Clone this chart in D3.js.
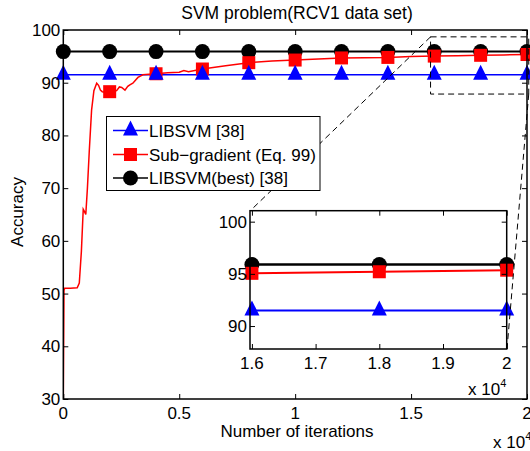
<!DOCTYPE html>
<html><head><meta charset="utf-8">
<script src="https://cdn.jsdelivr.net/npm/d3@7"></script>
<style>body{margin:0;background:#fff}svg{display:block;font-family:"Liberation Sans",Arial,sans-serif}</style>
</head><body>
<svg id="c" width="530" height="451"></svg>
<script>
// ---- data ----
const markerX = [0, 0.2, 0.4, 0.6, 0.8, 1.0, 1.2, 1.4, 1.6, 1.8, 2.0];
const libsvmY = [91.5, 91.5, 91.5, 91.5, 91.5, 91.5, 91.5, 91.5, 91.5, 91.5, 91.5];
const bestY   = [95.9, 95.9, 95.9, 95.9, 95.9, 95.9, 95.9, 95.9, 95.9, 95.9, 95.9];
const subMarkX = [0.2, 0.4, 0.6, 0.8, 1.0, 1.2, 1.4, 1.6, 1.8, 2.0];
const subMarkY = [88.3, 91.7, 92.6, 93.8, 94.3, 94.7, 94.8, 95.05, 95.2, 95.35];
const subX = [0, 0.003, 0.006, 0.03, 0.06, 0.069, 0.078, 0.086, 0.092, 0.097, 0.104, 0.112, 0.122, 0.132, 0.144, 0.152, 0.16, 0.168, 0.18, 0.2, 0.215, 0.23, 0.242, 0.252, 0.266, 0.278, 0.287, 0.30, 0.322, 0.343, 0.37, 0.4, 0.45, 0.5, 0.52, 0.54, 0.6, 0.7, 0.8, 0.9, 1.0, 1.1, 1.2, 1.3, 1.4, 1.5, 1.6, 1.7, 1.8, 1.9, 2.0];
const subY = [30, 50.6, 51, 51, 51.1, 52, 58, 66, 65.5, 65, 70, 77, 84.8, 88.5, 89.9, 89.5, 88.6, 88.3, 88.2, 88.3, 88.4, 88.5, 89.2, 89.1, 88.6, 89.3, 89.6, 89.9, 91.0, 91.5, 91.6, 91.7, 91.9, 92.0, 92.3, 92.1, 92.6, 93.2, 93.8, 94.1, 94.3, 94.5, 94.7, 94.75, 94.8, 94.95, 95.05, 95.12, 95.2, 95.28, 95.35];
const mainXTicks = [0, 0.5, 1, 1.5, 2];
const mainYTicks = [30, 40, 50, 60, 70, 80, 90, 100];
const insetXTicks = [1.6, 1.7, 1.8, 1.9, 2.0];
const insetYTicks = [90, 95, 100];
const seriesNames = ["LIBSVM [38]", "Sub\u2212gradient (Eq. 99)", "LIBSVM(best) [38]"];
const seriesColors = ["#0000ff", "#ff0000", "#000000"];
const seriesShapes = ["tri", "sq", "circ"];
const title = "SVM problem(RCV1 data set)";

const svg = d3.select("#c");
const FS = 17;

function marker(g, shape, color, cx, cy) {
  if (shape === "tri") {
    g.append("path").attr("d", `M${cx},${cy-10}L${cx+7.5},${cy+5}L${cx-7.5},${cy+5}Z`).attr("fill", color);
  } else if (shape === "sq") {
    g.append("rect").attr("x", cx-6.5).attr("y", cy-6.5).attr("width", 13).attr("height", 13).attr("fill", color);
  } else {
    g.append("circle").attr("cx", cx).attr("cy", cy).attr("r", 7.5).attr("fill", color);
  }
}

function drawPanel(g, x, y, xt, yt, xfmt, clipId, lw) {
  const [x0, x1] = x.range(), [y0, y1] = y.range();
  g.append("rect").attr("x", x0).attr("y", y1).attr("width", x1-x0).attr("height", y0-y1).attr("fill", "#fff");
  g.append("clipPath").attr("id", clipId).append("rect").attr("x", x0).attr("y", y1).attr("width", x1-x0).attr("height", y0-y1);
  const data = g.append("g");
  const lines = data.append("g").attr("clip-path", `url(#${clipId})`);
  const ln = d3.line().x(d => x(d[0])).y(d => y(d[1]));
  lines.append("path").datum(markerX.map((v,i)=>[v, libsvmY[i]])).attr("d", ln).attr("fill","none").attr("stroke", seriesColors[0]).attr("stroke-width", lw);
  lines.append("path").datum(subX.map((v,i)=>[v, subY[i]])).attr("d", ln).attr("fill","none").attr("stroke", seriesColors[1]).attr("stroke-width", lw);
  lines.append("path").datum(markerX.map((v,i)=>[v, bestY[i]])).attr("d", ln).attr("fill","none").attr("stroke", seriesColors[2]).attr("stroke-width", lw+0.5);
  const [dx0, dx1] = x.domain();
  const inX = v => v >= dx0 - 1e-9 && v <= dx1 + 1e-9;
  markerX.forEach((v,i)=>{ if (inX(v)) marker(data, "circ", seriesColors[2], x(v), y(bestY[i])); });
  subMarkX.forEach((v,i)=>{ if (inX(v)) marker(data, "sq", seriesColors[1], x(v), y(subMarkY[i])); });
  markerX.forEach((v,i)=>{ if (inX(v)) marker(data, "tri", seriesColors[0], x(v), y(libsvmY[i])); });
  g.append("rect").attr("x", x0).attr("y", y1).attr("width", x1-x0).attr("height", y0-y1).attr("fill","none").attr("stroke","#000").attr("stroke-width",1.5);
  const ax = g.append("g").attr("transform", `translate(0,${y0})`).call(d3.axisTop(x).tickValues(xt).tickSize(5).tickFormat(""));
  const axT = g.append("g").attr("transform", `translate(0,${y1})`).call(d3.axisBottom(x).tickValues(xt).tickSize(5).tickFormat(""));
  const ay = g.append("g").attr("transform", `translate(${x0},0)`).call(d3.axisRight(y).tickValues(yt).tickSize(5).tickFormat(""));
  const ayR = g.append("g").attr("transform", `translate(${x1},0)`).call(d3.axisLeft(y).tickValues(yt).tickSize(5).tickFormat(""));
  [ax, axT, ay, ayR].forEach(a => { a.select(".domain").remove(); a.selectAll("line").attr("stroke","#000").attr("stroke-width",1); });
  g.append("g").selectAll("text").data(xt).join("text")
    .attr("x", d => x(d)).attr("y", y0 + 20).attr("text-anchor","middle").attr("font-size", FS).attr("fill","#000").text(xfmt);
  g.append("g").selectAll("text").data(yt).join("text")
    .attr("x", x0 - 3).attr("y", d => y(d) + 6).attr("text-anchor","end").attr("font-size", FS).attr("fill","#000").text(d => d);
}

// ---- main panel ----
const x = d3.scaleLinear().domain([0, 2]).range([63.3, 527]);
const y = d3.scaleLinear().domain([30, 100]).range([399, 30]);
const main = svg.append("g");
drawPanel(main, x, y, mainXTicks, mainYTicks, d => d3.format("~g")(d), "clipMain", 1.5);

svg.append("text").attr("x", 297).attr("y", 19).attr("text-anchor","middle").attr("font-size", 17.5).text(title);
svg.append("text").attr("x", 297).attr("y", 437).attr("text-anchor","middle").attr("font-size", FS).text("Number of iterations");
svg.append("text").attr("transform","translate(23,212) rotate(-90)").attr("text-anchor","middle").attr("font-size", FS).text("Accuracy");
const m1 = svg.append("text").attr("x", 493).attr("y", 447.5).attr("font-size", FS);
m1.append("tspan").text("x 10");
m1.append("tspan").attr("dy", -8).attr("font-size", 11).text("4");

// zoom rectangle (dashed) and connectors
const dash = "6,4";
svg.append("rect").attr("x", x(1.584)).attr("y", y(98.7)).attr("width", x(2.0075) - x(1.584)).attr("height", y(87.85) - y(98.7))
  .attr("fill","none").attr("stroke","#000").attr("stroke-width",1).attr("stroke-dasharray", dash);
svg.append("line").attr("x1", x(1.584)).attr("y1", y(98.7)).attr("x2", 250).attr("y2", 211)
  .attr("stroke","#000").attr("stroke-width",1).attr("stroke-dasharray", dash);

// legend
const leg = svg.append("g");
leg.append("rect").attr("x", 106.5).attr("y", 116.5).attr("width", 213.5).attr("height", 74).attr("fill","#fff").attr("stroke","#000").attr("stroke-width",1);
const rowY = [130.5, 154.5, 178];
seriesNames.forEach((n,i)=>{
  leg.append("line").attr("x1",113).attr("x2",148).attr("y1",rowY[i]).attr("y2",rowY[i]).attr("stroke",seriesColors[i]).attr("stroke-width",1.5);
  marker(leg, seriesShapes[i], seriesColors[i], 130.5, rowY[i]);
  leg.append("text").attr("x",149).attr("y",rowY[i]+6).attr("font-size",17).text(n);
});

// ---- inset panel ----
const xi = d3.scaleLinear().domain([1.597, 2.0]).range([250, 506.7]);
const yi = d3.scaleLinear().domain([87.8, 101.05]).range([349, 210.7]);
const inset = svg.append("g");
drawPanel(inset, xi, yi, insetXTicks, insetYTicks, d => d3.format("~g")(d), "clipInset", 2);
const m2 = svg.append("text").attr("x", 468).attr("y", 395).attr("font-size", FS);
m2.append("tspan").text("x 10");
m2.append("tspan").attr("dy", -8).attr("font-size", 11).text("4");

svg.append("line").attr("x1", x(2.0075)).attr("y1", y(87.85)).attr("x2", 507).attr("y2", 349)
  .attr("stroke","#000").attr("stroke-width",1).attr("stroke-dasharray", dash);
</script>
</body></html>
